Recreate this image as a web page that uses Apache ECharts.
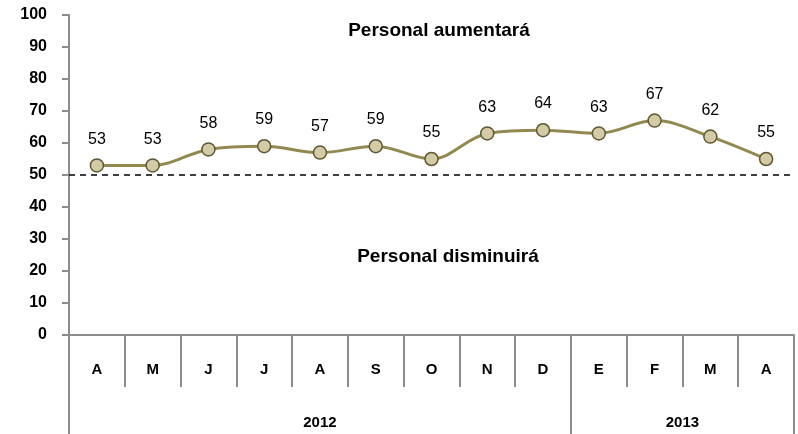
<!DOCTYPE html>
<html>
<head>
<meta charset="utf-8">
<script src="https://cdn.jsdelivr.net/npm/echarts@6/dist/echarts.min.js"></script>
<style>
  html, body { margin: 0; padding: 0; background: #fff; }
  #chart { width: 798px; height: 434px; }
</style>
</head>
<body>
<div id="chart"></div>
<script>
// months and index values
var months = ['A', 'M', 'J', 'J', 'A', 'S', 'O', 'N', 'D', 'E', 'F', 'M', 'A'];
var values = [53, 53, 58, 59, 57, 59, 55, 63, 64, 63, 67, 62, 55];
var years = ['2012', '2013'];
var yearSpans = [9, 4];
var threshold = 50;

// year boundaries and centres on a 0..13 scale
var yearTicks = [0];
var yearCentres = [];
var acc = 0;
for (var i = 0; i < yearSpans.length; i++) {
  yearCentres.push(acc + yearSpans[i] / 2);
  acc += yearSpans[i];
  yearTicks.push(acc);
}

var font = 'Liberation Sans, Arial, sans-serif';
var gray = '#8c8c8c';

var myChart = echarts.init(document.getElementById('chart'));

var option = {
  backgroundColor: '#fff',
  animation: false,
  title: [
    {
      text: 'Personal aumentará',
      left: 434, top: 16, textAlign: 'center',
      textStyle: { fontFamily: font, fontSize: 19, fontWeight: 'bold', color: '#000' }
    },
    {
      text: 'Personal disminuirá',
      left: 443, top: 242, textAlign: 'center',
      textStyle: { fontFamily: font, fontSize: 19, fontWeight: 'bold', color: '#000' }
    }
  ],
  grid: { left: 69, right: 4, top: 15, bottom: 99, containLabel: false },
  xAxis: [
    {
      type: 'category',
      data: months,
      boundaryGap: true,
      axisLine: { lineStyle: { color: gray, width: 2 } },
      axisTick: { show: true, interval: 0, length: 52, lineStyle: { color: gray, width: 2 } },
      axisLabel: {
        interval: 0, margin: 27,
        fontFamily: font, fontSize: 15, fontWeight: 'bold', color: '#000'
      },
      splitLine: { show: false }
    },
    {
      type: 'value',
      position: 'bottom',
      min: 0,
      max: months.length,
      axisLine: { show: false },
      axisTick: {
        show: true, length: 100, customValues: yearTicks,
        lineStyle: { color: gray, width: 2 }
      },
      axisLabel: {
        show: true, margin: 80, customValues: yearCentres,
        formatter: function (v) {
          var idx = yearCentres.indexOf(v);
          return idx >= 0 ? years[idx] : '';
        },
        fontFamily: font, fontSize: 15, fontWeight: 'bold', color: '#000'
      },
      splitLine: { show: false }
    }
  ],
  yAxis: {
    type: 'value',
    min: 0,
    max: 100,
    interval: 10,
    axisLine: { show: true, lineStyle: { color: gray, width: 2 } },
    axisTick: { show: true, length: 7, lineStyle: { color: gray, width: 2 } },
    axisLabel: {
      margin: 22,
      fontFamily: font, fontSize: 16, fontWeight: 'bold', color: '#000'
    },
    splitLine: { show: false }
  },
  series: [
    {
      type: 'line',
      data: values,
      smooth: 0.35,
      symbol: 'circle',
      symbolSize: 13,
      lineStyle: { color: '#928951', width: 3 },
      itemStyle: { color: '#d3cba5', borderColor: '#5e5731', borderWidth: 1.5 },
      label: {
        show: true, position: 'top', distance: 11,
        fontFamily: font, fontSize: 16, color: '#000'
      },
      markLine: {
        silent: true,
        symbol: 'none',
        label: { show: false },
        lineStyle: { color: '#000', type: [6, 5], width: 1.5 },
        data: [{ yAxis: threshold }]
      },
      z: 3
    }
  ]
};

myChart.setOption(option);
</script>
</body>
</html>
